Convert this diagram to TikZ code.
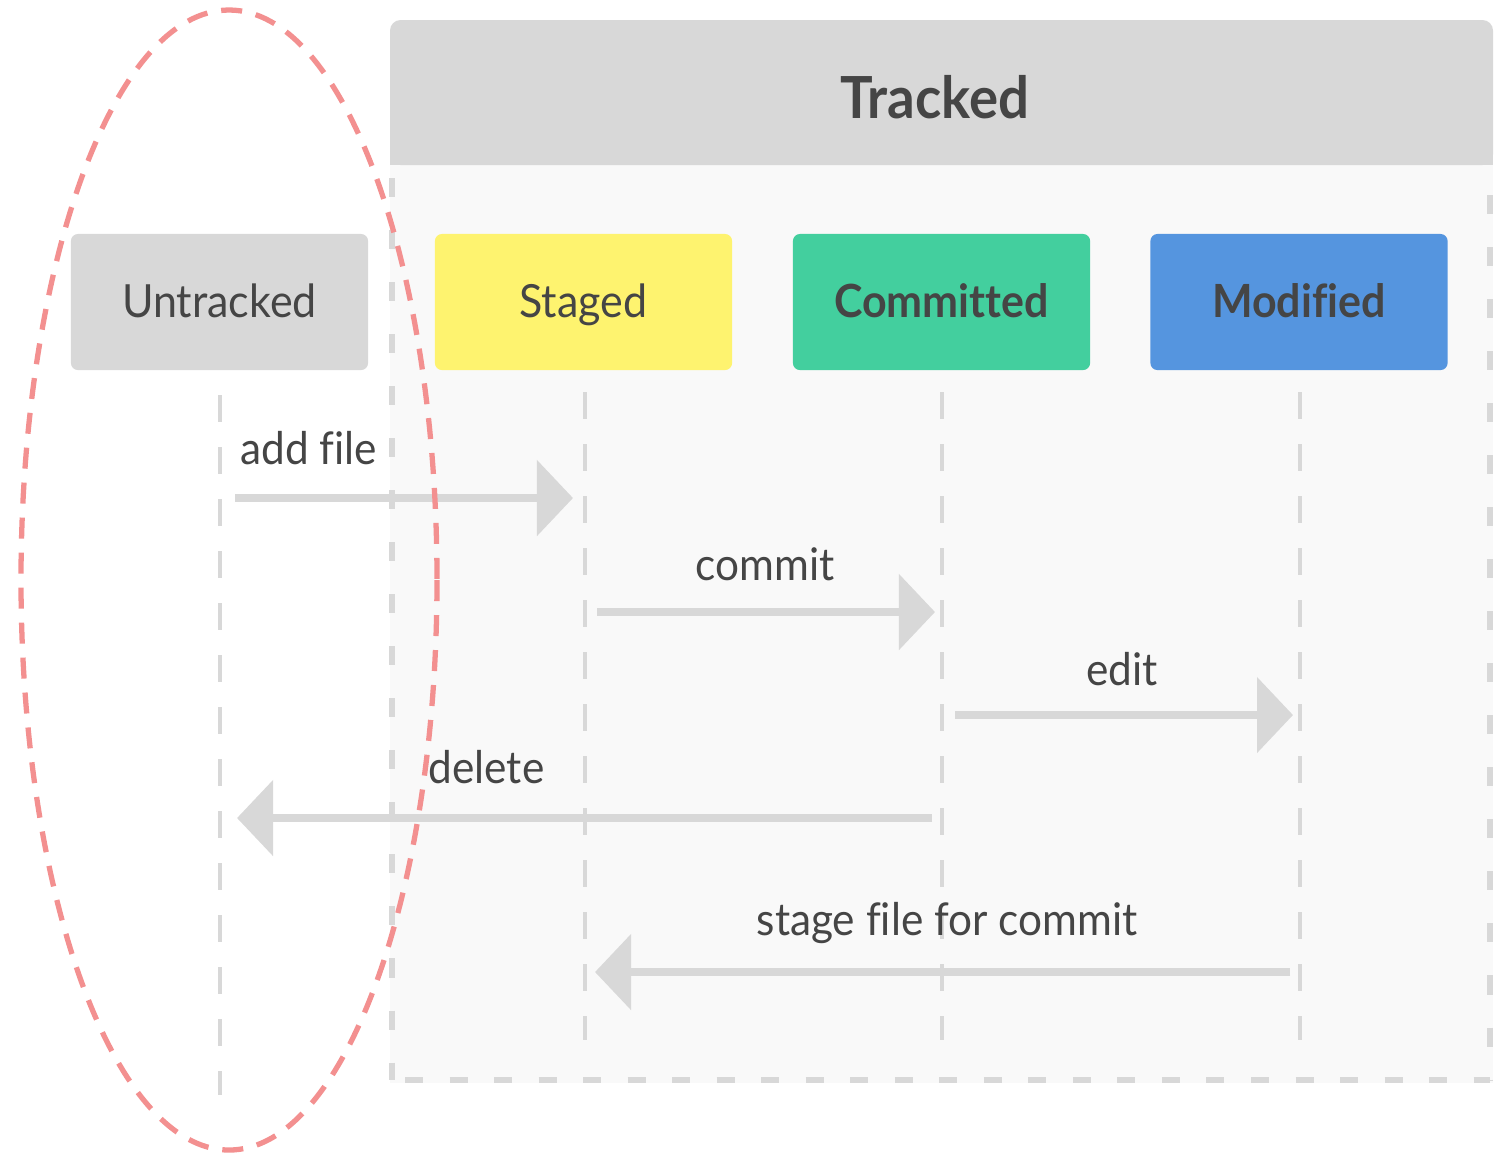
\documentclass[tikz,border=0pt]{standalone}
\usepackage{fontspec}
\setmainfont{Lato}[FakeStretch=0.94, Ligatures=NoCommon]
\usetikzlibrary{arrows.meta}

\definecolor{ink}{HTML}{454545}
\definecolor{boxgray}{HTML}{D8D8D8}
\definecolor{panelbg}{HTML}{F9F9F9}
\definecolor{stagedc}{HTML}{FEF36F}
\definecolor{committedc}{HTML}{43CF9E}
\definecolor{modifiedc}{HTML}{5595DF}
\definecolor{ringc}{HTML}{F39090}
\definecolor{arrowc}{HTML}{D8D8D8}

\begin{document}
\begin{tikzpicture}[x=0.01cm, y=-0.01cm,
  state/.style={rounded corners=2pt, minimum width=2.97cm, minimum height=1.36cm,
    inner sep=0pt, text=ink, text height=0.3cm, text depth=0pt,
    font=\fontsize{13}{15}\selectfont},
  lifeline/.style={draw=boxgray, line width=1.3pt, dash pattern=on 0.27cm off 0.25cm},
  edgeline/.style={draw=boxgray, line width=1.7pt},
  flow/.style={draw=arrowc, line width=2.5pt, -{Triangle[length=0.36cm, width=0.74cm]}},
  lbl/.style={text=ink, inner sep=0pt, font=\fontsize{12.8}{15}\selectfont},
]
\useasboundingbox (0,0) rectangle (1501,1153);

% Tracked panel: body, dashed border, header
\fill[panelbg] (390,165) rectangle (1493,1083);
\draw[edgeline, dash pattern=on 0.19cm off 0.33cm] (392,178) -- (392,1080);
\draw[edgeline, dash pattern=on 0.19cm off 0.33cm] (1490,195) -- (1490,1080);
\draw[edgeline, dash pattern=on 0.18cm off 0.265cm] (405,1080) -- (1490,1080);
\fill[boxgray, rounded corners=3pt] (390,20) rectangle (1493,165);
\fill[boxgray] (390,100) rectangle (1493,165);
\node[text=ink, font=\bfseries\fontsize{16.5}{20}\selectfont] (title) at (935,97) {Tracked};

% State boxes
\node[state, fill=boxgray] (untracked) at (219.5,302) {Untracked};
\node[state, fill=stagedc] (staged) at (583.5,302) {Staged};
\node[state, fill=committedc, font=\bfseries\fontsize{13}{15}\selectfont] (committed) at (941.5,302) {Committed};
\node[state, fill=modifiedc, font=\bfseries\fontsize{13}{15}\selectfont] (modified) at (1299,302) {Modified};

% Lifelines
\coordinate (uTop) at (220,395);  \coordinate (uBot) at (220,1095);
\coordinate (sTop) at (585,392);  \coordinate (sBot) at (585,1040);
\coordinate (cTop) at (942,392);  \coordinate (cBot) at (942,1040);
\coordinate (mTop) at (1300,392); \coordinate (mBot) at (1300,1040);
\draw[lifeline] (uTop) -- (uBot);
\draw[lifeline] (sTop) -- (sBot);
\draw[lifeline] (cTop) -- (cBot);
\draw[lifeline] (mTop) -- (mBot);

% Transitions
\coordinate (addA) at (235,498);   \coordinate (addB) at (573,498);
\coordinate (comA) at (597,612);   \coordinate (comB) at (935,612);
\coordinate (ediA) at (955,715);   \coordinate (ediB) at (1293,715);
\coordinate (delA) at (932,818);   \coordinate (delB) at (237,818);
\coordinate (stgA) at (1290,972);  \coordinate (stgB) at (595,972);
\draw[flow] (addA) -- (addB);
\draw[flow] (comA) -- (comB);
\draw[flow] (ediA) -- (ediB);
\draw[flow] (delA) -- (delB);
\draw[flow] (stgA) -- (stgB);

\node[lbl, anchor=base west] (lAdd) at (240,464) {add file};
\node[lbl, anchor=base] (lCom) at (765,580) {commit};
\node[lbl, anchor=base] (lEdi) at (1122,685) {edit};
\node[lbl, anchor=base west] (lDel) at (428,783) {delete};
\node[lbl, anchor=base] (lStg) at (947,935) {stage file for commit};

% Dashed ring round the untracked column
\draw[ringc, line width=1.5pt, dash pattern=on 0.21cm off 0.14cm]
  (229,580) ellipse [x radius=208, y radius=570];
\end{tikzpicture}
\end{document}
